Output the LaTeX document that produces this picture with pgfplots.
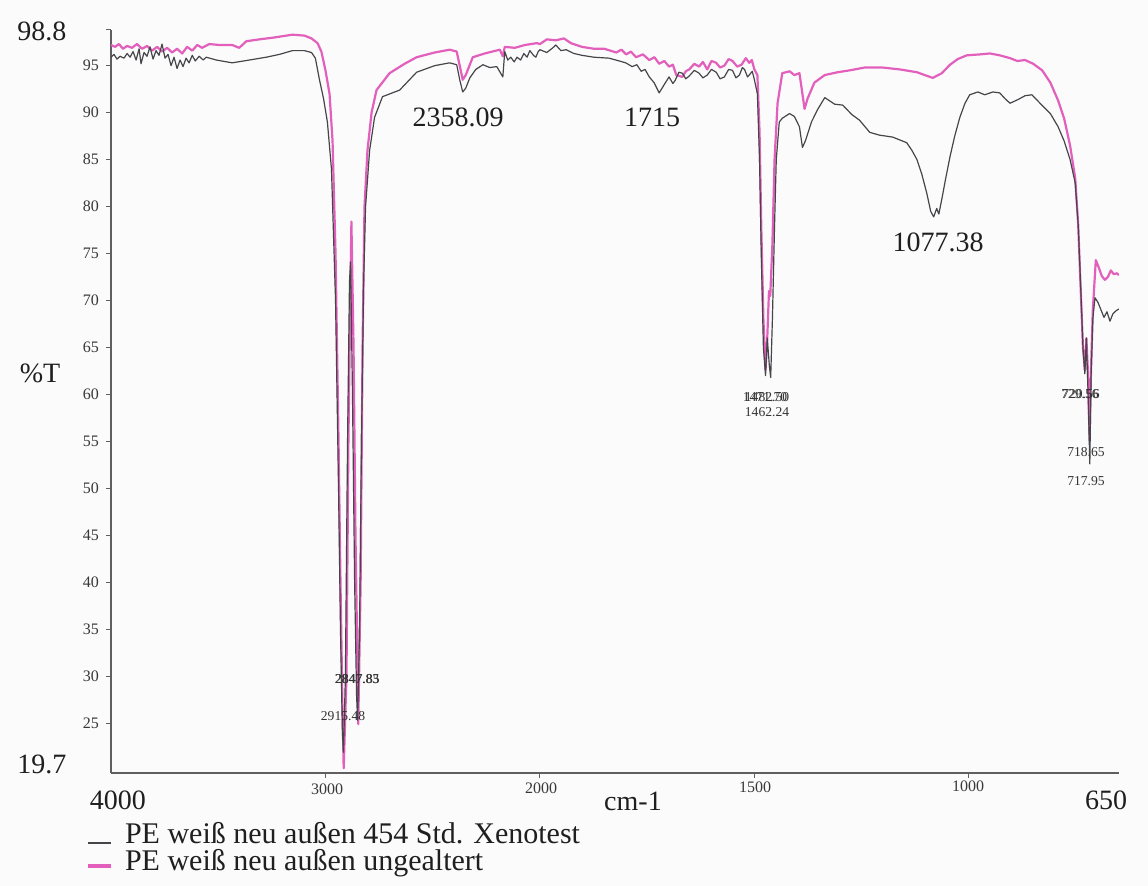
\documentclass[border=0pt]{standalone}
\usepackage{pgfplots}
\pgfplotsset{compat=1.18}
\usepackage{pgfplotstable}
\usepackage{fontspec}
\setmainfont{Liberation Serif}
\definecolor{pinkline}{RGB}{226,96,188}
\definecolor{grayline}{RGB}{70,70,74}
\definecolor{paper}{RGB}{252,251,252}
\definecolor{axiscol}{RGB}{95,95,98}

\pgfplotstableread{
nu T
4000 95.9
3986 96.2
3972 95.7
3958 96.0
3939 95.8
3925 96.3
3911 95.9
3897 96.5
3883 95.6
3869 96.8
3860 95.2
3846 96.4
3832 96.0
3818 97.0
3804 95.7
3790 96.6
3776 96.1
3762 97.3
3748 95.8
3734 96.2
3720 95.0
3706 95.9
3692 94.7
3678 95.6
3664 94.9
3650 95.8
3636 95.3
3621 96.1
3607 95.5
3589 96.0
3570 95.6
3556 95.9
3509 95.6
3435 95.3
3355 95.6
3276 95.9
3215 96.2
3154 96.6
3098 96.6
3065 96.4
3047 95.8
3028 93.5
3009 91.5
2991 89.0
2972 84.0
2953 70.0
2939 50.0
2930 35.0
2921 24.0
2916 21.9
2907 30.0
2897 55.0
2888 72.0
2883 74.1
2874 60.0
2864 40.0
2855 28.0
2850 25.3
2841 35.0
2832 55.0
2822 72.0
2813 80.0
2794 86.0
2771 89.5
2734 91.7
2654 92.4
2575 94.3
2491 95.0
2421 95.3
2388 95.1
2374 93.5
2360 92.2
2346 92.6
2327 93.7
2299 94.6
2266 95.1
2234 94.8
2201 94.9
2173 93.8
2164 96.5
2150 95.6
2136 95.9
2120 95.4
2107 95.9
2090 95.6
2075 96.3
2060 95.9
2047 96.6
2030 96.1
2019 95.9
2008 96.5
2000 96.7
1984 96.4
1970 96.9
1963 97.2
1951 96.6
1939 96.7
1921 96.3
1902 96.1
1874 95.9
1839 95.8
1815 95.5
1800 95.3
1785 94.9
1774 95.1
1764 94.4
1755 94.6
1745 93.8
1734 93.2
1722 92.1
1710 93.0
1699 93.8
1690 93.1
1685 93.4
1676 94.3
1668 94.2
1660 93.6
1652 93.9
1640 94.5
1629 94.2
1620 93.7
1610 94.0
1600 94.6
1589 94.3
1580 93.6
1570 93.8
1560 94.6
1551 94.5
1543 93.7
1535 94.0
1528 94.8
1523 94.6
1516 93.8
1512 94.0
1505 94.4
1500 93.5
1493 92.0
1488 85.0
1484 75.0
1479 65.0
1474 62.0
1470 66.0
1465 63.0
1462 61.8
1458 68.0
1453 78.0
1449 85.0
1442 89.0
1435 89.4
1418 89.9
1407 89.6
1395 88.5
1388 86.3
1381 87.0
1367 89.0
1353 90.3
1336 91.6
1313 90.9
1294 90.8
1273 89.8
1255 89.2
1231 87.9
1208 87.6
1178 87.4
1145 86.8
1133 86.0
1121 85.0
1110 83.5
1098 81.4
1089 79.5
1082 78.9
1075 79.8
1070 79.2
1063 80.8
1054 83.0
1044 85.3
1033 87.5
1021 89.5
1009 91.0
998 91.9
979 92.2
963 91.9
944 92.2
928 92.1
916 91.5
904 91.0
885 91.4
869 91.8
853 91.9
834 91.0
810 89.9
792 88.5
778 87.0
764 85.0
752 82.5
745 78.0
738 70.0
734 65.0
729.6 62.2
726 66.0
722 60.0
718 52.6
715 62.0
711 68.0
706 70.3
699 69.8
692 69.0
685 68.2
678 68.8
671 67.8
664 68.6
657 68.9
650 69.1
}\grayData

\pgfplotstableread{
nu T
4000 97.2
3981 97.0
3963 97.3
3944 96.8
3925 97.1
3902 96.9
3879 97.3
3855 96.8
3832 97.1
3808 96.6
3785 97.0
3762 96.5
3738 96.9
3715 96.4
3692 96.8
3668 96.3
3645 97.0
3621 96.6
3598 97.2
3575 96.9
3542 97.3
3495 97.2
3435 97.2
3402 96.9
3369 97.6
3308 97.8
3238 98.0
3154 98.3
3098 98.2
3065 97.9
3037 97.4
3019 96.5
3000 94.5
2981 92.0
2967 87.0
2953 75.0
2939 55.0
2930 40.0
2921 27.0
2915 20.2
2902 30.0
2893 55.0
2883 72.0
2879 78.4
2869 65.0
2860 45.0
2850 30.0
2847 24.9
2836 40.0
2827 65.0
2818 80.0
2804 86.0
2785 90.0
2762 92.4
2701 94.2
2631 95.2
2575 95.9
2491 96.4
2421 96.7
2388 96.5
2374 95.0
2360 93.5
2346 94.0
2313 95.9
2257 96.3
2187 96.7
2173 96.0
2164 97.0
2117 96.9
2070 97.2
2014 97.4
2000 97.3
1984 97.8
1963 97.7
1944 97.9
1928 97.4
1902 97.0
1874 96.8
1850 96.8
1822 96.4
1810 96.7
1799 96.2
1788 96.5
1776 95.9
1760 96.2
1745 95.6
1733 95.9
1722 95.2
1710 95.5
1699 94.9
1690 95.1
1682 94.0
1668 93.8
1660 94.4
1652 94.6
1640 95.2
1629 94.9
1620 95.4
1610 94.6
1600 95.5
1589 95.3
1580 94.8
1570 95.0
1560 95.7
1551 95.5
1540 94.9
1530 95.1
1520 95.8
1512 95.3
1506 95.6
1500 94.6
1493 94.0
1488 88.0
1484 78.0
1479 68.0
1474 62.6
1470 66.0
1466 71.0
1463 70.5
1458 76.0
1453 85.0
1446 91.0
1435 94.2
1418 94.4
1407 94.0
1395 94.2
1388 92.0
1383 90.4
1376 91.5
1360 93.2
1336 94.0
1306 94.3
1278 94.5
1243 94.8
1201 94.8
1161 94.6
1121 94.3
1103 94.0
1084 93.7
1063 94.2
1044 95.1
1026 95.7
1005 96.1
974 96.2
951 96.3
928 96.1
904 95.8
887 95.5
869 95.6
850 95.2
829 94.5
810 93.2
792 91.3
778 89.4
764 86.5
752 83.0
745 78.0
740 72.0
734 65.0
729.6 62.6
726 66.0
722 62.0
718.6 55.1
715 63.0
711 69.0
704 74.3
697 73.5
690 72.6
683 72.2
676 72.5
669 73.2
662 72.8
655 72.9
650 72.7
}\pinkData

\newcommand{\bigf}{\fontsize{14}{16}\selectfont}
\newcommand{\legf}{\fontsize{15}{17}\selectfont}
\newcommand{\smallf}{\fontsize{6.8}{8}\selectfont}
\newcommand{\tickf}{\fontsize{8}{9}\selectfont}

\begin{document}
\begin{tikzpicture}
\begin{scope}[x=0.5pt,y=-0.5pt,shift={(-55.5pt,386.5pt)}]
  \useasboundingbox (0,0) rectangle (1148,886);
  \fill[paper] (0,0) rectangle (1148,886);
\end{scope}
\begin{axis}[
  at={(0,0)}, anchor=south west,
  scale only axis, width=504pt, height=371.5pt,
  xmin=0, xmax=4.7, ymin=19.7, ymax=98.8,
  axis x line=bottom, axis y line=left,
  axis line style={-, axiscol, line width=0.9pt},
  xtick={1,2,3,4}, xticklabels={},
  ytick={25,30,...,95},
  extra y ticks={98.8}, extra y tick labels={},
  yticklabel style={font=\tickf, text=black!78},
  /pgf/number format/assume math mode=true,
  tick align=outside, major tick length=2.5pt,
  tick style={axiscol, line width=0.5pt},
]
\addplot[pinkline, line width=1.1pt, line join=round]
  table[x expr={(4000-\thisrow{nu})/1000+max(0,2000-\thisrow{nu})/1000}, y=T] {\pinkData};
\addplot[grayline, line width=0.6pt, line join=round]
  table[x expr={(4000-\thisrow{nu})/1000+max(0,2000-\thisrow{nu})/1000}, y=T] {\grayData};
\end{axis}
\begin{scope}[x=0.5pt,y=-0.5pt,shift={(-55.5pt,386.5pt)}]
  % axis end labels
  \node[font=\bigf, text=black!88] at (42,31) {98.8};
  \node[font=\bigf, text=black!88] at (40,373) {\%T};
  \node[font=\bigf, text=black!88] at (42,764) {19.7};
  \node[font=\bigf, text=black!88] at (118,800) {4000};
  \node[font=\bigf, text=black!88] at (1106,800) {650};
  \node[font=\bigf, text=black!88] at (633,801) {cm-1};
  % small x tick labels
  \node[font=\tickf, text=black!78] at (327,789) {3000};
  \node[font=\tickf, text=black!78] at (541,788) {2000};
  \node[font=\tickf, text=black!78] at (755,787) {1500};
  \node[font=\tickf, text=black!78] at (968,786) {1000};
  % peak annotations
  \node[font=\bigf, text=black!88] at (458,117) {2358.09};
  \node[font=\bigf, text=black!88] at (652,117) {1715};
  \node[font=\bigf, text=black!88] at (938,242) {1077.38};
  \node[font=\smallf, text=black!80] at (357,679) {2847.83};
  \node[font=\smallf, text=black!80] at (357.5,679) {2847.85};
  \node[font=\smallf, text=black!80] at (343,716) {2915.48};
  \node[font=\smallf, text=black!80] at (765,397) {1471.70};
  \node[font=\smallf, text=black!80] at (767,397) {1482.50};
  \node[font=\smallf, text=black!80] at (767,412) {1462.24};
  \node[font=\smallf, text=black!80] at (1080,394) {729.56};
  \node[font=\smallf, text=black!80] at (1081,394) {720.56};
  \node[font=\smallf, text=black!80] at (1086,452) {718.65};
  \node[font=\smallf, text=black!80] at (1086,481) {717.95};
  % legend
  \draw[grayline, line width=0.9pt] (88,843) -- (111,843);
  \node[font=\legf, text=black!88, anchor=west] at (118,833) {PE weiß neu außen 454 Std. Xenotest};
  \draw[pinkline, line width=1.6pt] (88,866) -- (111,866);
  \node[font=\legf, text=black!88, anchor=west] at (118,863) {PE weiß neu außen ungealtert};
\end{scope}
\end{tikzpicture}
\end{document}
